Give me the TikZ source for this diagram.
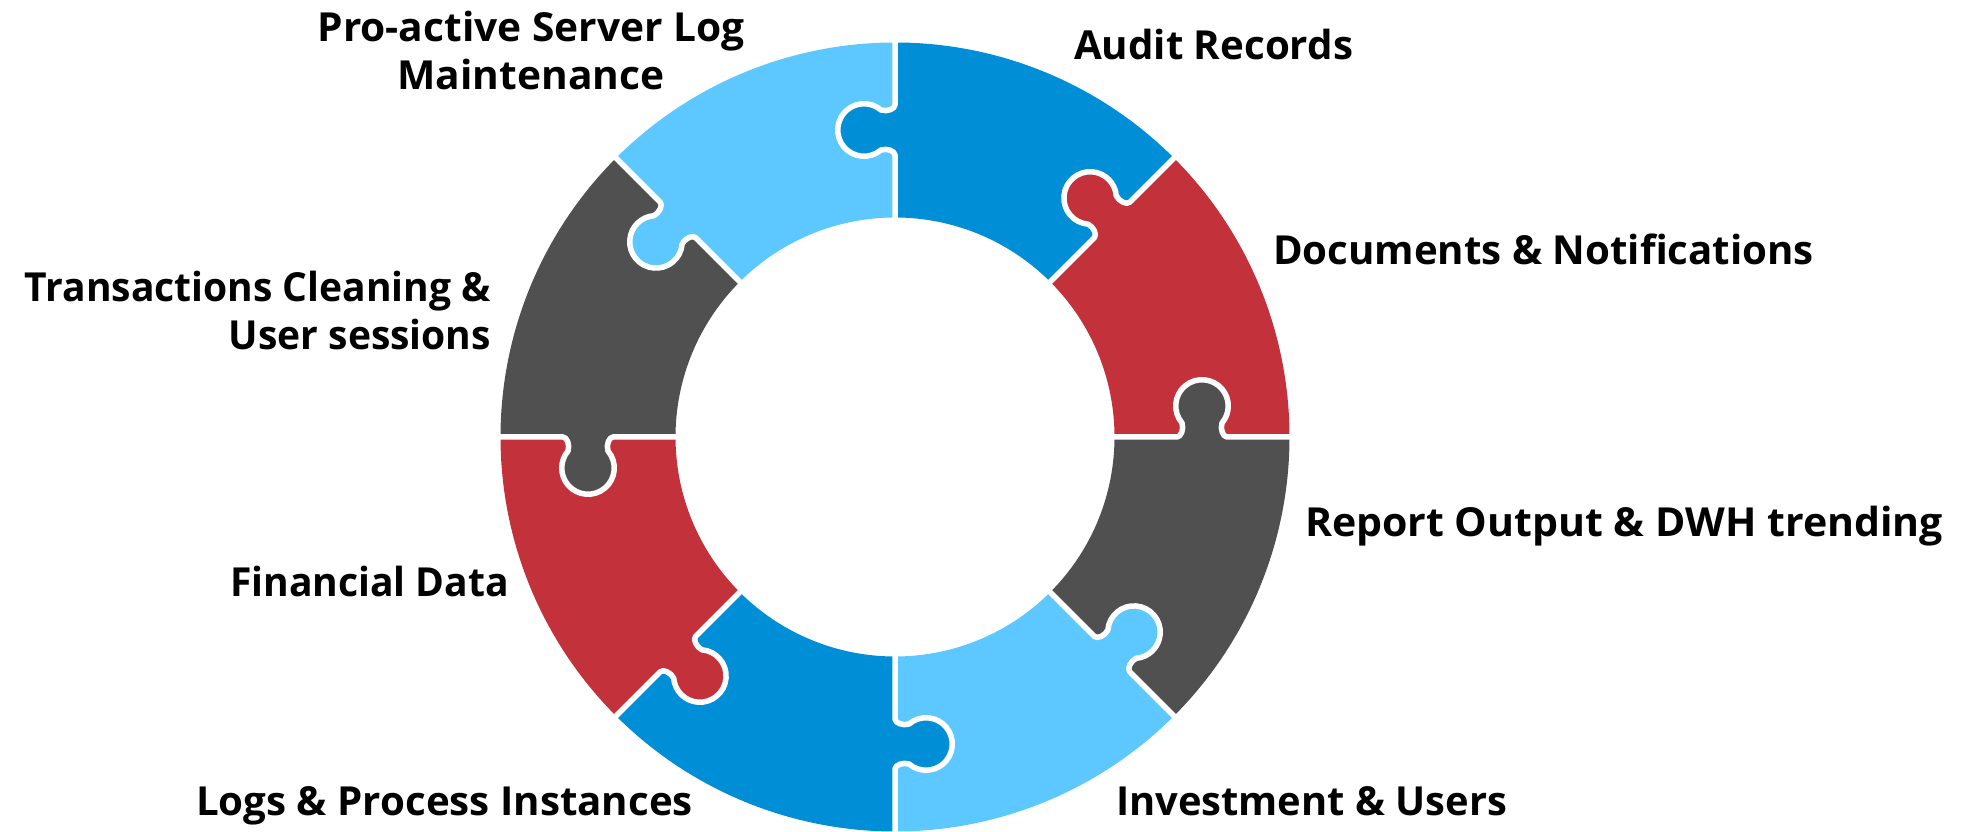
\documentclass[tikz,border=0pt]{standalone}
\usepackage{fontspec}
\setmainfont{Open Sans}
\usepackage{graphicx}
\definecolor{plLight}{RGB}{93,199,255}
\definecolor{plBlue}{RGB}{0,143,214}
\definecolor{plRed}{RGB}{195,50,59}
\definecolor{plGrey}{RGB}{80,80,80}
\newcommand{\fitlbl}[3]{\resizebox{#1}{\height}{\begin{tabular}[t]{@{}#2@{}}#3\end{tabular}}}
\tikzset{
  lbl/.style={inner sep=0pt, outer sep=0pt, font=\fontsize{40}{48}\selectfont\bfseries},
  seam/.style={draw=white, line width=5.5pt, line join=round},
  ringpos/.style={shift={(895,395)}, rotate=#1},
}
\begin{document}
\begin{tikzpicture}[x=1pt, y=1pt]
\useasboundingbox (0,0) rectangle (1968,832);
% ring sectors
\foreach \a/\c in {90/plLight, 45/plBlue, 0/plRed, -45/plGrey, -90/plLight, -135/plBlue, 180/plRed, 135/plGrey}{
  \fill[\c, ringpos=\a] (0:394.5) arc[start angle=0, end angle=45, radius=394.5]
     -- (45:219.5) arc[start angle=45, end angle=0, radius=219.5] -- cycle;
}
% tabs
\foreach \a/\c in {90/plBlue, 45/plRed, 0/plGrey, -45/plLight, -90/plBlue, -135/plRed, 180/plGrey, 135/plLight}{
  \fill[\c, ringpos=\a] (282,-3) -- (282,0) .. controls (286,0) and (289,8) .. (287,14)
     arc[start angle=220.4, end angle=-40.4, radius=26.25]
     .. controls (325,8) and (328,0) .. (332,0) -- (332,-3) -- cycle;
}
% seams
\foreach \a in {90,45,0,-45,-90,-135,180,135}{
  \draw[seam, ringpos=\a] (216,0) -- (282,0) .. controls (286,0) and (289,8) .. (287,14)
     arc[start angle=220.4, end angle=-40.4, radius=26.25]
     .. controls (325,8) and (328,0) .. (332,0) -- (398,0);
}
% labels
\node[lbl, anchor=base] (proactive) at (531,790.3) {\fitlbl{427pt}{c}{Pro-active Server Log\\Maintenance}};
\node[lbl, anchor=base west] (audit) at (1074,772) {\fitlbl{279pt}{l}{Audit Records}};
\node[lbl, anchor=base west] (docs) at (1273,567) {\fitlbl{541pt}{l}{Documents \& Notifications}};
\node[lbl, anchor=base west] (report) at (1305,295) {\fitlbl{638pt}{l}{Report Output \& DWH trending}};
\node[lbl, anchor=base west] (invest) at (1116,16) {\fitlbl{391pt}{l}{Investment \& Users}};
\node[lbl, anchor=base east] (logs) at (693,16) {\fitlbl{497pt}{r}{Logs \& Process Instances}};
\node[lbl, anchor=base east] (fin) at (509,235) {\fitlbl{279pt}{r}{Financial Data}};
\node[lbl, anchor=base east] (trans) at (491,530) {\fitlbl{466pt}{r}{Transactions Cleaning \&\\User sessions}};
\end{tikzpicture}
\end{document}
